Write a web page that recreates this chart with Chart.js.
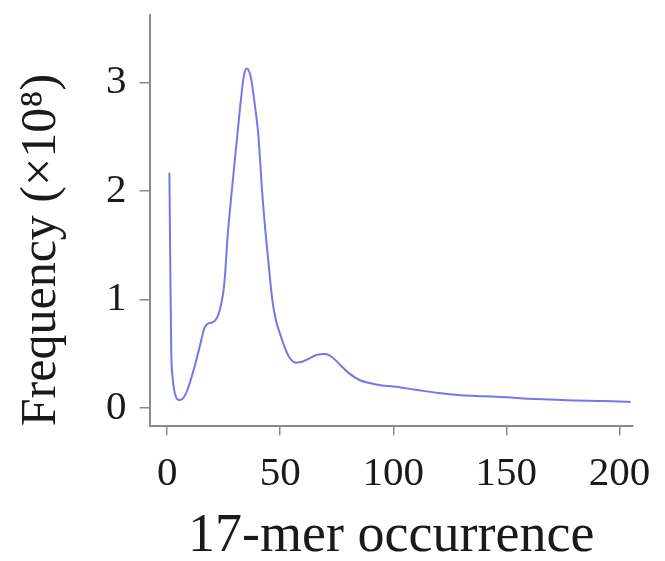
<!DOCTYPE html>
<html>
<head>
<meta charset="utf-8">
<script src="https://cdn.jsdelivr.net/npm/chart.js@4/dist/chart.umd.min.js"></script>
<style>
  html, body { margin: 0; padding: 0; background: #fff; }
  #wrap { width: 665px; height: 561px; }
</style>
</head>
<body>
<div id="wrap"><canvas id="c"></canvas></div>
<script>
// k-mer occurrence (x) vs frequency in units of 1e8 (y)
const occurrence = [1, 1.3, 1.8, 2.5, 3.5, 5.5, 7, 9, 11, 13, 15, 16.5, 18, 20, 22.2, 24, 25.3, 26.8, 28.2, 30, 31.1, 32.6, 34, 35.2, 37, 38.5, 40.4, 42, 43.6, 45, 46.5, 48, 50, 52, 54, 57, 60, 63, 66, 70, 73, 76, 80, 85, 90, 95, 100, 110, 120, 130, 140, 150, 160, 170, 180, 190, 200, 205];
const frequency = [2.17, 1.5, 0.55, 0.27, 0.13, 0.075, 0.09, 0.17, 0.3, 0.45, 0.62, 0.74, 0.78, 0.79, 0.84, 0.97, 1.15, 1.6, 1.92, 2.3, 2.53, 2.84, 3.07, 3.13, 3.05, 2.84, 2.5, 2.0, 1.6, 1.3, 1.0, 0.82, 0.68, 0.56, 0.47, 0.42, 0.43, 0.46, 0.49, 0.5, 0.47, 0.41, 0.33, 0.26, 0.23, 0.21, 0.2, 0.17, 0.14, 0.12, 0.11, 0.1, 0.087, 0.08, 0.072, 0.067, 0.062, 0.058];
const xTicks = [0, 50, 100, 150, 200];
const yTicks = [0, 1, 2, 3];

const serif = 'Liberation Serif';
const axisColor = '#8a8a8a';

new Chart(document.getElementById('c'), {
    type: 'line',
    data: {
        datasets: [{
            data: occurrence.map((x, i) => ({ x: x, y: frequency[i] })),
            borderColor: 'rgb(118,118,232)',
            borderWidth: 2,
            pointRadius: 0,
            fill: false,
            cubicInterpolationMode: 'monotone'
        }]
    },
    options: {
        responsive: true,
        maintainAspectRatio: false,
        animation: false,
        layout: { padding: { top: 0, right: 30, left: 17, bottom: 0 } },
        plugins: {
            legend: { display: false },
            tooltip: { enabled: false }
        },
        scales: {
            x: {
                type: 'linear',
                min: -7.8,
                max: 206,
                afterBuildTicks: (axis) => { axis.ticks = xTicks.map(v => ({ value: v })); },
                grid: { drawOnChartArea: false, tickLength: 9, color: axisColor, lineWidth: 1.5 },
                border: { color: axisColor, width: 2 },
                ticks: {
                    color: '#1a1a1a',
                    padding: 14,
                    maxRotation: 0,
                    font: { family: serif, size: 41 }
                },
                title: {
                    display: true,
                    text: '17-mer occurrence',
                    color: '#1a1a1a',
                    padding: { top: 0, bottom: 0 },
                    font: { family: serif, size: 54, lineHeight: 0.9 }
                }
            },
            y: {
                min: -0.166,
                max: 3.62,
                afterBuildTicks: (axis) => { axis.ticks = yTicks.map(v => ({ value: v })); },
                grid: { drawOnChartArea: false, tickLength: 10, color: axisColor, lineWidth: 1.5 },
                border: { color: axisColor, width: 2 },
                ticks: {
                    color: '#1a1a1a',
                    padding: 13,
                    font: { family: serif, size: 41, lineHeight: 0.12 }
                },
                title: {
                    display: true,
                    align: 'start',
                    text: 'Frequency (\u00d710\u2078)',
                    color: '#1a1a1a',
                    padding: { top: 0, bottom: 26 },
                    font: { family: serif, size: 50, lineHeight: 1 }
                }
            }
        }
    }
});
</script>
</body>
</html>
